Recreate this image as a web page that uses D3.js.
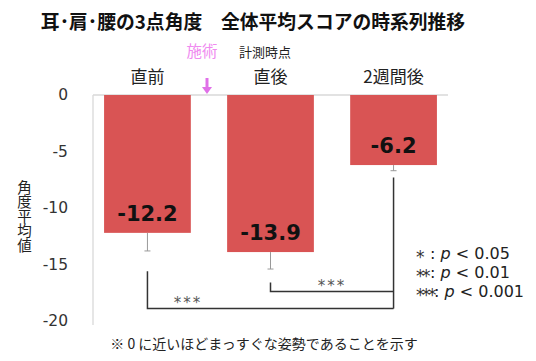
<!DOCTYPE html>
<html><head><meta charset="utf-8">
<script src="https://cdn.jsdelivr.net/npm/d3@7"></script>
<style>body{margin:0;background:#fff}svg{display:block}</style>
</head><body>
<script>
const categories = ["直前", "直後", "2週間後"];
const values = [-12.2, -13.9, -6.2];
const errors = [1.6, 1.5, 0.5];
const yTicks = [0, -5, -10, -15, -20];
const brackets = [{from: 0, to: 2, level: -18.9, startBelow: -15.6, label: "***"},
                  {from: 1, to: 2, level: -17.4, startBelow: -16.6, label: "***"}];
const legendRows = [["*", "0.05"], ["**", "0.01"], ["***", "0.001"]];

const W = 536, H = 361;
const jp = "'Noto Sans CJK JP', 'Noto Sans', sans-serif";
const num = "'DejaVu Sans', sans-serif";
const svg = d3.select("body").append("svg").attr("width", W).attr("height", H);

const x = d3.scaleBand().domain(categories).range([93, 448]).paddingInner(0.295).paddingOuter(0.09);
const y = d3.scaleLinear().domain([-20, 0]).range([321, 95]);

// title
svg.append("text").attr("x", 253).attr("y", 29).attr("text-anchor", "middle")
  .attr("font-family", jp).attr("font-weight", "bold").attr("font-size", 18.8).attr("fill", "#111")
  .text("耳･肩･腰の3点角度　全体平均スコアの時系列推移");

// axes
const yAxis = d3.axisLeft(y).tickValues(yTicks).tickSize(0).tickPadding(25).tickFormat(d => String(d));
const gy = svg.append("g").attr("transform", "translate(93,0)").call(yAxis);
gy.select(".domain").attr("stroke", "#d9d9d9").attr("stroke-width", 1.3).attr("d", "M0,95V325");
gy.selectAll("text").attr("font-family", num).attr("font-size", 15.5).attr("fill", "#333");

svg.append("line").attr("x1", 93).attr("x2", 448).attr("y1", y(0)).attr("y2", y(0))
  .attr("stroke", "#d9d9d9").attr("stroke-width", 1.3);

// bars
const cx = i => x(categories[i]) + x.bandwidth() / 2;
svg.selectAll("rect.bar").data(values).join("rect").attr("class", "bar")
  .attr("x", (d, i) => x(categories[i])).attr("width", x.bandwidth())
  .attr("y", y(0)).attr("height", d => y(d) - y(0)).attr("fill", "#d95454");

// error bars
const eg = svg.append("g").attr("stroke", "#999").attr("stroke-width", 1);
values.forEach((v, i) => {
  eg.append("line").attr("x1", cx(i)).attr("x2", cx(i)).attr("y1", y(v)).attr("y2", y(v - errors[i]));
  eg.append("line").attr("x1", cx(i) - 3).attr("x2", cx(i) + 3).attr("y1", y(v - errors[i])).attr("y2", y(v - errors[i]));
});

// value labels
svg.selectAll("text.val").data(values).join("text").attr("class", "val")
  .attr("x", (d, i) => cx(i)).attr("y", d => y(d) - 12).attr("text-anchor", "middle")
  .attr("font-family", num).attr("font-weight", "bold").attr("font-size", 21).attr("fill", "#111")
  .text(d => d.toFixed(1));

// category labels
svg.selectAll("text.cat").data(categories).join("text").attr("class", "cat")
  .attr("x", d => x(d) + x.bandwidth() / 2).attr("y", 83).attr("text-anchor", "middle")
  .attr("font-family", jp).attr("font-size", 17).attr("fill", "#222").text(d => d);

svg.append("text").attr("x", 265).attr("y", 57).attr("text-anchor", "middle")
  .attr("font-family", jp).attr("font-size", 13).attr("fill", "#222").text("計測時点");
svg.append("text").attr("x", 202).attr("y", 57).attr("text-anchor", "middle")
  .attr("font-family", jp).attr("font-size", 15.5).attr("fill", "#f08af0").text("施術");
svg.append("line").attr("x1", 207).attr("x2", 207).attr("y1", 78).attr("y2", 88)
  .attr("stroke", "#e070e8").attr("stroke-width", 3);
svg.append("path").attr("d", "M202,87L212,87L207,94Z").attr("fill", "#e070e8");

// y axis title
svg.append("text").attr("font-family", jp).attr("font-size", 14.5).attr("fill", "#222")
  .attr("x", 22).attr("y", 180).attr("text-anchor", "start").attr("style", "writing-mode: vertical-rl")
  .attr("dominant-baseline", "middle")
  .text("角度平均値");

// significance brackets
const bg = svg.append("g").attr("fill", "none").attr("stroke", "#333").attr("stroke-width", 1.5);
brackets.forEach(b => {
  bg.append("path").attr("d", `M${cx(b.from)},${y(b.startBelow)}V${y(b.level)}H${cx(b.to)}`);
});
bg.append("path").attr("d", `M${cx(2)},${y(-7.3)}V${y(brackets[0].level)}`);
svg.append("text").attr("x", 188).attr("y", y(brackets[0].level) - 1).attr("text-anchor", "middle")
  .attr("font-family", num).attr("font-size", 15).attr("fill", "#555").attr("letter-spacing", 2).text(brackets[0].label);
svg.append("text").attr("x", 332).attr("y", y(brackets[1].level) - 1).attr("text-anchor", "middle")
  .attr("font-family", num).attr("font-size", 15).attr("fill", "#555").attr("letter-spacing", 2).text(brackets[1].label);

// legend
legendRows.forEach((r, i) => {
  const yy = 259 + i * 19;
  svg.append("text").attr("x", 416).attr("y", yy + 4).attr("font-family", num)
    .attr("font-size", 17).attr("letter-spacing", -2.5).attr("fill", "#333").text(r[0]);
  const t = svg.append("text").attr("x", i < 2 ? 430 : 434).attr("y", yy).attr("font-family", num).attr("font-size", 16).attr("fill", "#222");
  t.append("tspan").text(": ");
  t.append("tspan").attr("font-style", "italic").text("p");
  t.append("tspan").text(" < " + r[1]);
});

// footnote
svg.append("text").attr("x", 264).attr("y", 349).attr("text-anchor", "middle")
  .attr("font-family", jp).attr("font-size", 14).attr("fill", "#222")
  .text("※ 0 に近いほどまっすぐな姿勢であることを示す");
</script>
</body></html>
